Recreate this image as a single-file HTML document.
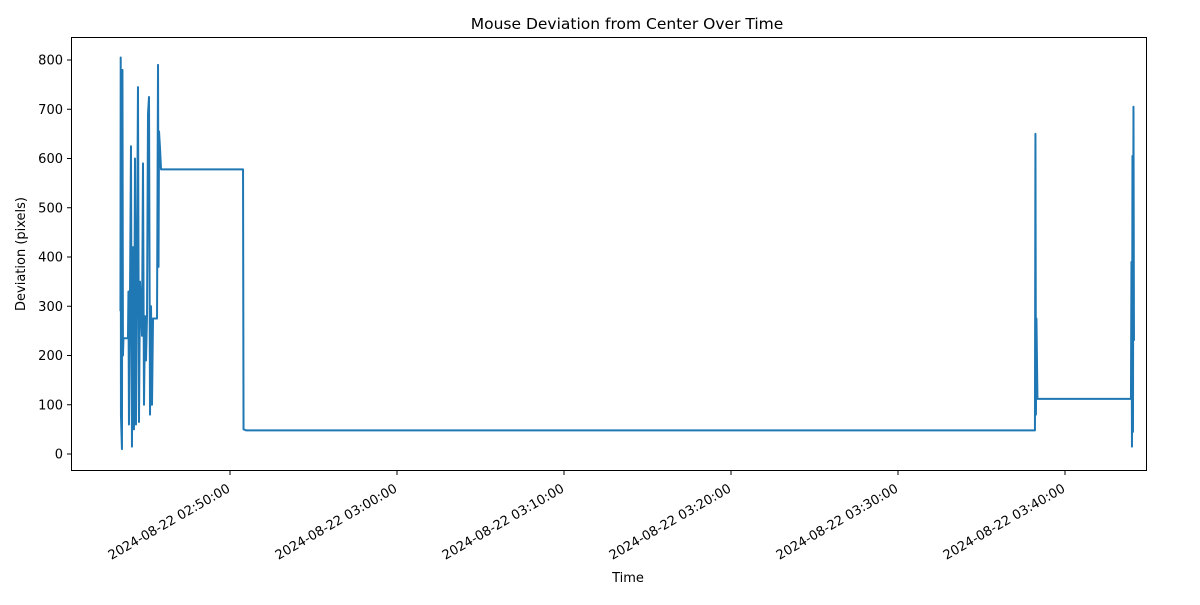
<!DOCTYPE html>
<html><head><meta charset="utf-8"><style>
body{margin:0;background:#fff;font-family:"Liberation Sans","DejaVu Sans",sans-serif}
</style></head><body>
<svg id="chart" width="1200" height="600" xmlns="http://www.w3.org/2000/svg" font-family="DejaVu Sans, Liberation Sans, sans-serif">
<rect width="1200" height="600" fill="#fff"/>
<text x="627" y="29" text-anchor="middle" font-size="15.5">Mouse Deviation from Center Over Time</text>
<g id="plot"></g>
<rect x="71.5" y="37.5" width="1075" height="433" fill="none" stroke="#000" stroke-width="1"/>
<text x="628" y="582" text-anchor="middle" font-size="13">Time</text>
<text transform="translate(25,254) rotate(-90)" text-anchor="middle" font-size="13">Deviation (pixels)</text>
</svg>
<script>
// minutes since 2024-08-22 02:40:00
const times=[3.44,3.455,3.47,3.53,3.56,3.59,3.62,3.89,3.92,3.95,4.01,4.07,4.13,4.19,4.25,4.31,4.37,4.43,4.49,4.55,4.61,4.73,4.79,4.85,4.91,4.97,5.03,5.09,5.15,5.21,5.27,5.33,5.39,5.63,5.69,5.72,5.75,5.81,5.87,10.78,10.81,10.96,58.20,58.23,58.26,58.29,58.35,63.95,63.98,64.01,64.04,64.07,64.10,64.13];
const values=[290,805,80,10,780,200,235,235,330,60,310,625,15,420,50,600,60,380,745,65,350,240,590,100,280,190,280,690,725,80,300,100,275,275,790,380,655,620,578,578,50,48,48,650,80,275,112,112,390,15,605,45,705,230];
const yTicks=[0,100,200,300,400,500,600,700,800];
const xTickMinutes=[10,20,30,40,50,60];
const xTickLabels=["2024-08-22 02:50:00","2024-08-22 03:00:00","2024-08-22 03:10:00","2024-08-22 03:20:00","2024-08-22 03:30:00","2024-08-22 03:40:00"];
const NS="http://www.w3.org/2000/svg";
const xs=m=>63+16.7*m;
const ys=v=>454-0.4925*v;
const g=document.getElementById('plot');
function mk(t,a){const e=document.createElementNS(NS,t);for(const k in a)e.setAttribute(k,a[k]);return e;}
yTicks.forEach(v=>{
  const y=ys(v);
  const l=mk('line',{x1:67,x2:71.5,y1:y,y2:y,stroke:'#000'});
  
  
  g.appendChild(l);
  const t=mk('text',{x:63,y:y+4.5,'text-anchor':'end','font-size':'13'});
  
  
  t.textContent=v;g.appendChild(t);
});
xTickMinutes.forEach((m,i)=>{
  const x=xs(m);
  const l=mk('line',{x1:x,x2:x,y1:470.5,y2:475,stroke:'#000'});
  
  
  g.appendChild(l);
  const t=mk('text',{transform:`translate(${x+1},${491}) rotate(-30)`,'text-anchor':'end','font-size':'13'});
  
  
  t.textContent=xTickLabels[i];g.appendChild(t);
});
const pts=times.map((m,i)=>xs(m).toFixed(2)+','+ys(values[i]).toFixed(2)).join(' ');
const line=mk('polyline',{points:pts,fill:'none',stroke:'#1f77b4','stroke-width':2,'stroke-linejoin':'round'});


g.appendChild(line);
</script>
</body></html>
